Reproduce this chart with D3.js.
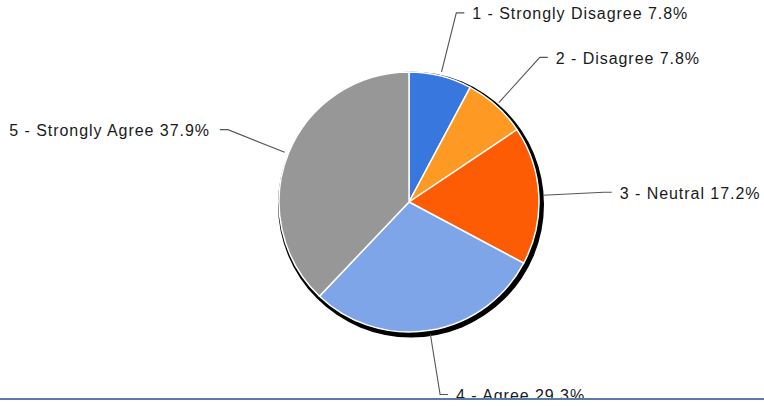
<!DOCTYPE html>
<html><head><meta charset="utf-8">
<script src="https://cdn.jsdelivr.net/npm/d3@7/dist/d3.min.js"></script>
<style>html,body{margin:0;padding:0;background:#fff;overflow:hidden}</style>
</head><body>
<svg id="chart" width="764" height="406"></svg>
<script>
const categories = ["1 - Strongly Disagree", "2 - Disagree", "3 - Neutral", "4 - Agree", "5 - Strongly Agree"];
const values = [7.8, 7.8, 17.2, 29.3, 37.9];
const colors = ["#3877dd", "#fe9a24", "#fe5b05", "#7ea5e8", "#979797"];

const W = 764, H = 406;
const cx = 409, cy = 202, R = 130;
const svg = d3.select("#chart");
const g = svg.append("g");

// shadow / outline
g.append("circle").attr("cx", cx + 2).attr("cy", cy + 2.5).attr("r", R + 3).attr("fill", "#000");

const pie = d3.pie().sort(null).value(d => d)(values);
const arc = d3.arc().innerRadius(0).outerRadius(R);
const pg = g.append("g").attr("transform", `translate(${cx},${cy})`);
pg.selectAll("path").data(pie).join("path")
  .attr("d", arc).attr("fill", (d, i) => colors[i])
  .attr("stroke", "#fff").attr("stroke-width", 1.5).attr("stroke-linejoin", "round");

const startArc = d3.arc().innerRadius(R + 4).outerRadius(R + 4);
const elbowArc = d3.arc().innerRadius(195).outerRadius(195);
pie.forEach((d, i) => {
  const p0 = startArc.centroid(d), p1 = elbowArc.centroid(d);
  const right = p1[0] > 0;
  const p2 = [p1[0] + (right ? 8 : -8), p1[1]];
  pg.append("polyline")
    .attr("points", [p0, p1, p2].map(p => p.join(",")).join(" "))
    .attr("fill", "none").attr("stroke", "#555").attr("stroke-width", 1.1);
  pg.append("text")
    .attr("x", p2[0] + (right ? 8 : -10)).attr("y", p2[1] + 6.5)
    .attr("text-anchor", right ? "start" : "end")
    .attr("font-family", "'Liberation Sans', Arial, sans-serif")
    .attr("font-size", 16).attr("letter-spacing", "0.95px").attr("fill", "#1a1a1a")
    .text(categories[i] + " " + d3.format(".1f")(values[i]) + "%");
});

// bottom clip and line
svg.append("rect").attr("x", 0).attr("y", 398).attr("width", W).attr("height", H - 398).attr("fill", "#fff");
svg.append("line").attr("x1", 0).attr("x2", W).attr("y1", 399).attr("y2", 399)
  .attr("stroke", "#5a7aa8").attr("stroke-width", 2);
</script>
</body></html>
